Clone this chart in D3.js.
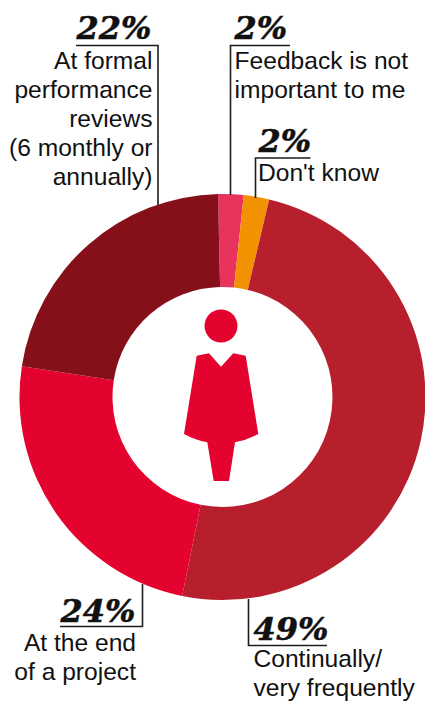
<!DOCTYPE html>
<html>
<head>
<meta charset="utf-8">
<script src="https://cdnjs.cloudflare.com/ajax/libs/d3/7.8.5/d3.min.js"></script>
<style>
html, body { margin: 0; padding: 0; background: #fff; }
svg { display: block; }
</style>
</head>
<body>
<svg id="chart" width="425" height="702"></svg>
<script>
var percents = [2, 2, 49, 24, 22];
var percentLabels = ["2%", "2%", "49%", "24%", "22%"];
var labelLines = [
  ["Feedback is not", "important to me"],
  ["Don't know"],
  ["Continually/", "very frequently"],
  ["At the end", "of a project"],
  ["At formal", "performance", "reviews", "(6 monthly or", "annually)"]
];
var colours = ["#e8335c", "#f39200", "#b81f2d", "#e4032e", "#85101a"];

var svg = d3.select("#chart");
var cx = 222.5, cy = 397;

//Create the donut
var pie = d3.pie().sort(null).startAngle(-0.022).endAngle(2 * Math.PI - 0.022);
var arc = d3.arc().innerRadius(110).outerRadius(203);
svg.append("g")
  .attr("transform", "translate(" + cx + "," + cy + ")")
  .selectAll("path")
  .data(pie(percents))
  .enter()
  .append("path")
  .attr("d", arc)
  .attr("fill", function(d, i) { return colours[i]; });

//Leader lines, drawn under the labels
var callouts = [
  { leader: [[290, 45.5], [230.5, 45.5], [230.5, 195]], px: 234.5, py: 39, tx: 234.5, ty: 68.5, anchor: "start" },
  { leader: [[310.5, 158], [255.5, 158], [255.5, 198]], px: 258.5, py: 151.5, tx: 258, ty: 181, anchor: "start" },
  { leader: [[327, 645.5], [248.5, 645.5], [248.5, 599]], px: 253.5, py: 640, tx: 253.5, ty: 667, anchor: "start" },
  { leader: [[60, 626.5], [142.5, 626.5], [142.5, 584]], px: 135.5, py: 621.5, tx: 136, ty: 651, anchor: "end" },
  { leader: [[76, 45.5], [158, 45.5], [158, 205]], px: 151.5, py: 39, tx: 152.5, ty: 68.5, anchor: "end" }
];
var leaderLine = d3.line();
svg.append("g").selectAll("path")
  .data(callouts)
  .enter()
  .append("path")
  .attr("d", function(d) { return leaderLine(d.leader); })
  .attr("fill", "none")
  .attr("stroke", "#1d1d1b")
  .attr("stroke-width", 1.6);

//Percent figures
svg.append("g").selectAll("text")
  .data(callouts)
  .enter()
  .append("text")
  .attr("x", function(d) { return d.px; })
  .attr("y", function(d) { return d.py; })
  .attr("text-anchor", function(d) { return d.anchor; })
  .style("font-family", "'DejaVu Serif', serif")
  .style("font-weight", "bold")
  .style("font-style", "italic")
  .style("font-size", "32px")
  .style("fill", "#111")
  .style("stroke", "#111")
  .style("stroke-width", 0.5)
  .text(function(d, i) { return percentLabels[i]; });

//Label text, one tspan per line
svg.append("g").selectAll("text")
  .data(callouts)
  .enter()
  .append("text")
  .attr("text-anchor", function(d) { return d.anchor; })
  .style("font-family", "'Liberation Sans', sans-serif")
  .style("font-size", "24.6px")
  .style("fill", "#111")
  .each(function(d, i) {
    d3.select(this).selectAll("tspan")
      .data(labelLines[i])
      .enter()
      .append("tspan")
      .attr("x", d.tx)
      .attr("y", function(l, j) { return d.ty + j * 29; })
      .text(function(l) { return l; });
  });

//Figure in the middle
var figure = svg.append("g").attr("fill", "#e4032e");
figure.append("circle").attr("cx", 221).attr("cy", 326).attr("r", 16.5);
figure.append("path")
  .attr("d", "M196.7,355.7L209,353.3L221,366.7L233.3,353.3L245.7,355.7L258.3,434Q247,440 235,442.3L229,481L213.7,481L207.3,442.3Q195,440 184,434Z");
</script>
</body>
</html>
